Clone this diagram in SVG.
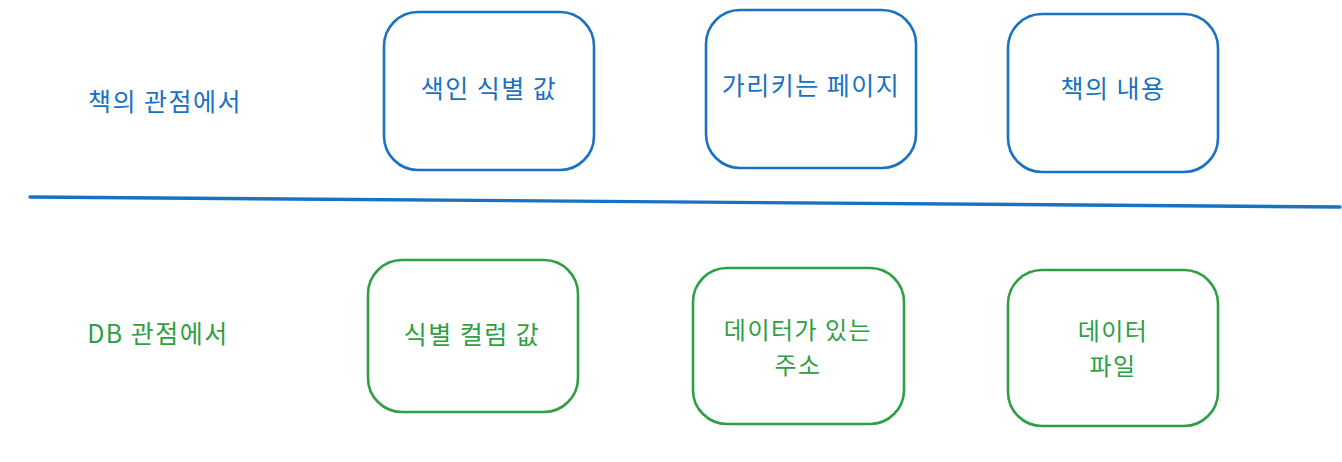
<svg xmlns="http://www.w3.org/2000/svg" width="1342" height="462" viewBox="0 0 1342 462">
<style>
.b{fill:none;stroke:#1971c2;stroke-width:2.6}
.g{fill:none;stroke:#2f9e44;stroke-width:2.6}
text{font-family:"Noto Sans CJK KR","Noto Sans",sans-serif;font-size:25px;letter-spacing:1.5px;text-anchor:middle;dominant-baseline:central}
.tb{fill:#1971c2}
.tg{fill:#2f9e44}
.two{font-size:24px}
</style>
<rect width="1342" height="462" fill="#fff"/>
<g id="label-book"><text class="tb" x="165" y="100">책의 관점에서</text></g>
<g id="label-db"><text class="tg" x="158" y="332">DB 관점에서</text></g>
<g id="connectors"><path d="M30 197 L1340 207" fill="none" stroke="#1971c2" stroke-width="3.4" stroke-linecap="round"/></g>
<g id="n1"><rect class="b" x="384" y="12" width="210" height="158" rx="34"/><text class="tb" x="489" y="87">색인 식별 값</text></g>
<g id="n2"><rect class="b" x="706" y="10" width="210" height="158" rx="34"/><text class="tb" x="811" y="84">가리키는 페이지</text></g>
<g id="n3"><rect class="b" x="1008" y="14" width="210" height="158" rx="34"/><text class="tb" x="1113" y="87">책의 내용</text></g>
<g id="n4"><rect class="g" x="368" y="260" width="210" height="152" rx="34"/><text class="tg" x="472" y="333">식별 컬럼 값</text></g>
<g id="n5"><rect class="g" x="693" y="268" width="211" height="156" rx="34"/><text class="tg two" x="798" y="328">데이터가 있는</text><text class="tg two" x="798" y="363">주소</text></g>
<g id="n6"><rect class="g" x="1008" y="270" width="210" height="156" rx="34"/><text class="tg two" x="1113" y="329">데이터</text><text class="tg two" x="1113" y="364">파일</text></g>
</svg>
